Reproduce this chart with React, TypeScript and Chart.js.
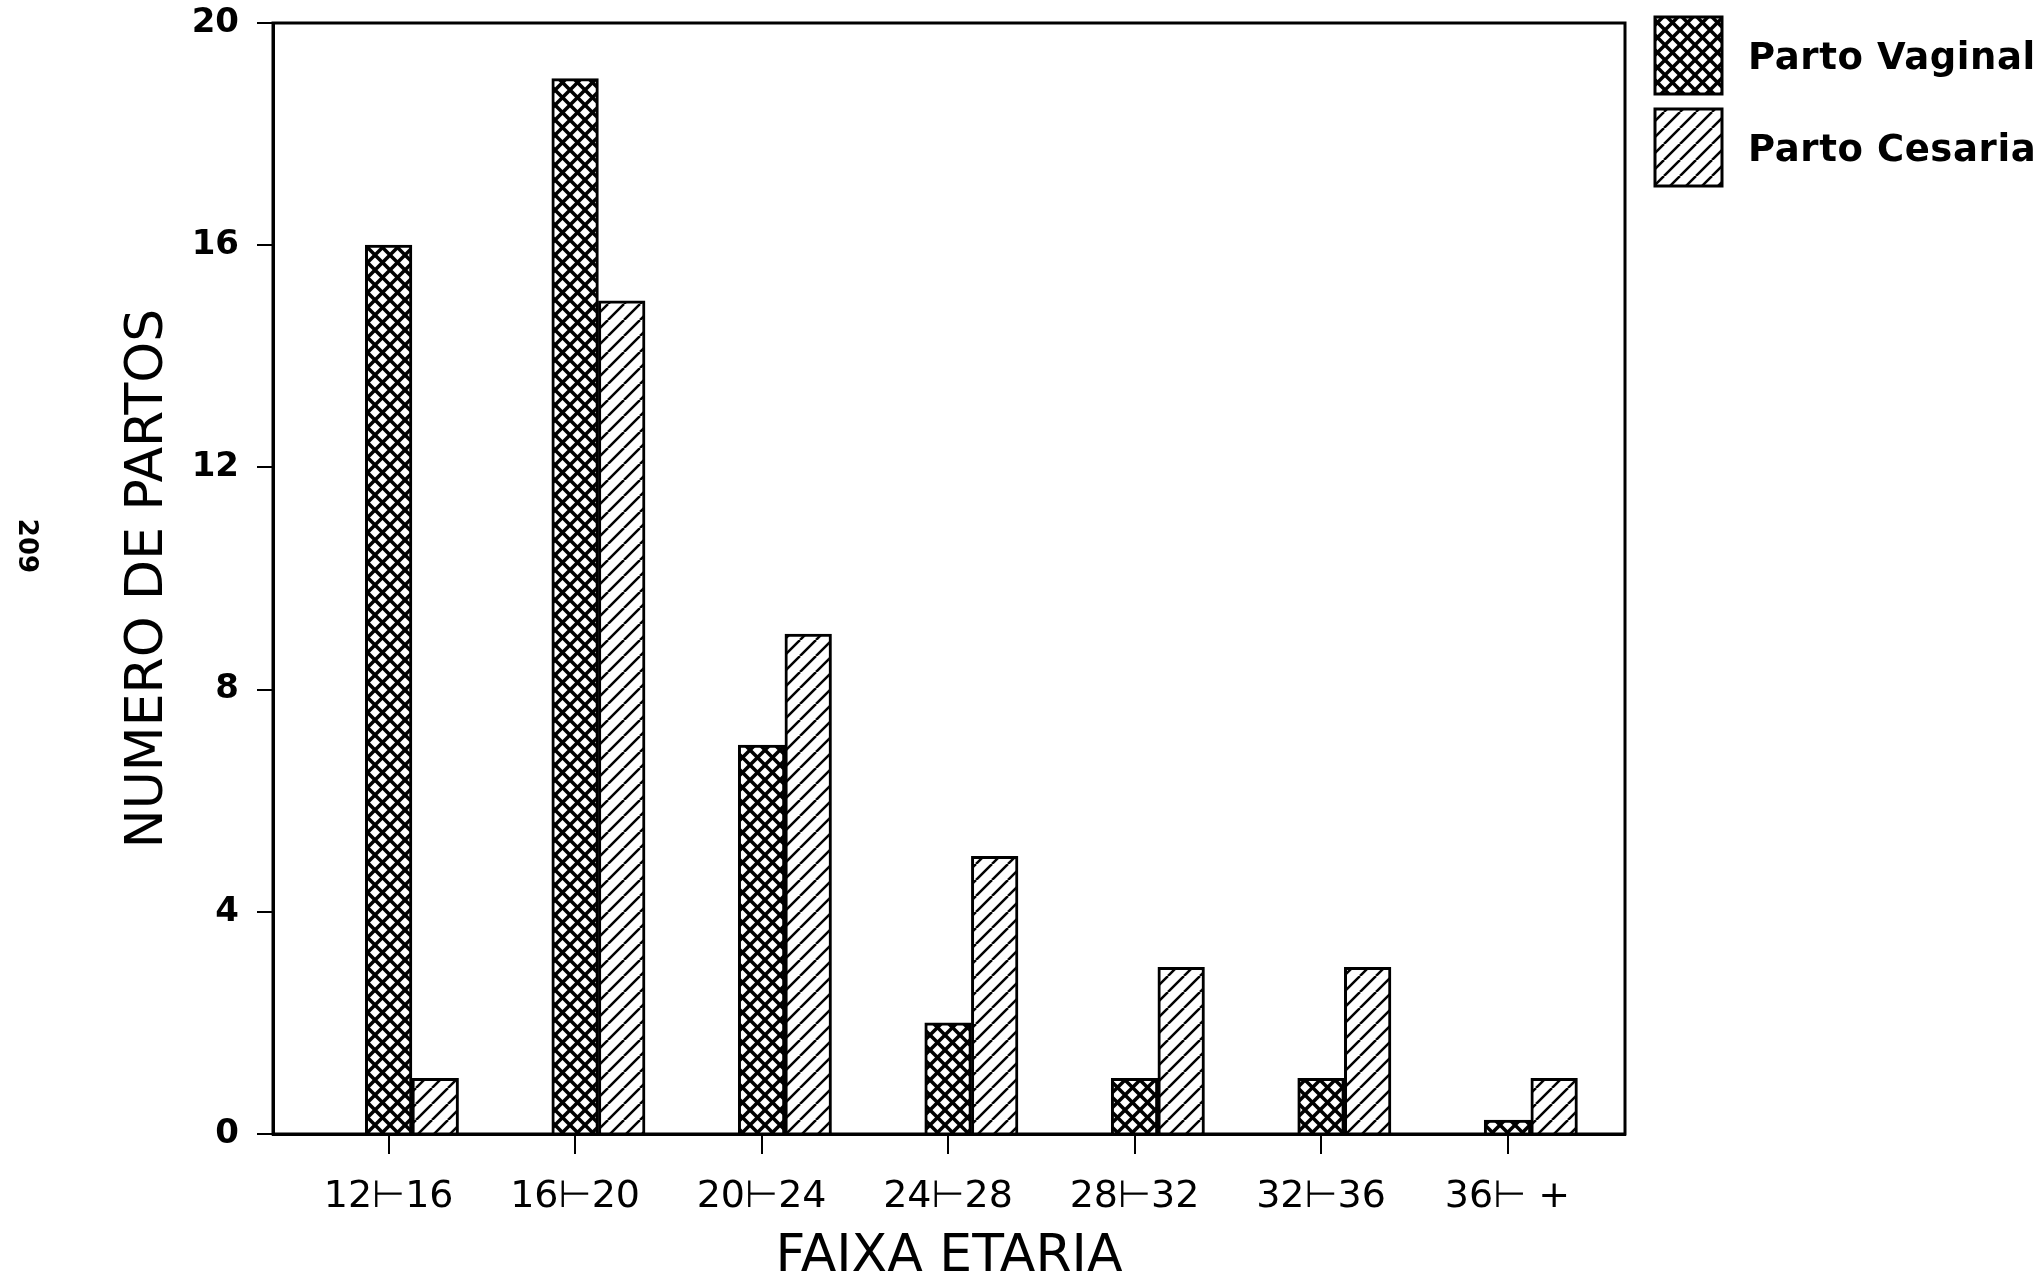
import { useEffect, useRef } from "react";
import { Chart, registerables } from "chart.js";

Chart.register(...registerables);

// Age groups on the horizontal axis
const ageGroups = ["12⊢16", "16⊢20", "20⊢24", "24⊢28", "28⊢32", "32⊢36", "36⊢ +"];
// Number of deliveries per age group
const partoVaginal = [16, 19, 7, 2, 1, 1, 0.25];
const partoCesariana = [1, 15, 9, 5, 3, 3, 1];
const yTicks = [0, 4, 8, 12, 16, 20];
const seriesLabels = ["Parto Vaginal", "Parto Cesariana"];
const xTitle = "FAIXA ETARIA";
const yTitle = "NUMERO DE PARTOS";
const pageMark = "209";

// width of one bar, in category units
const BAR_UNIT = 0.25;

function makeHatch(cross: boolean, size: number, lineWidth: number): CanvasPattern {
  const c = document.createElement("canvas");
  c.width = size;
  c.height = size;
  const g = c.getContext("2d")!;
  g.fillStyle = "#fff";
  g.fillRect(0, 0, size, size);
  g.strokeStyle = "#000";
  g.lineWidth = lineWidth;
  for (const dx of [-size, 0, size]) {
    g.beginPath();
    g.moveTo(dx, size);
    g.lineTo(dx + size, 0);
    g.stroke();
    if (cross) {
      g.beginPath();
      g.moveTo(dx, 0);
      g.lineTo(dx + size, size);
      g.stroke();
    }
  }
  return g.createPattern(c, "repeat")!;
}

export default function App() {
  const ref = useRef<HTMLCanvasElement | null>(null);

  useEffect(() => {
    const canvas = ref.current;
    if (!canvas) return;
    const crossFill = makeHatch(true, 15, 3.5);
    const slashFill = makeHatch(false, 16, 2.5);
    const fills = [crossFill, slashFill];

    const framePlugin = {
      id: "frame",
      afterDraw(chart: any) {
        const { ctx, chartArea } = chart;
        ctx.save();
        ctx.strokeStyle = "#000";
        ctx.lineWidth = 3;
        ctx.strokeRect(chartArea.left, chartArea.top, chartArea.right - chartArea.left, chartArea.bottom - chartArea.top);
        ctx.restore();
      },
    };

    const legendPlugin = {
      id: "boxLegend",
      afterDraw(chart: any) {
        const { ctx, chartArea } = chart;
        const x = chartArea.right + 30;
        const boxW = 67;
        const boxH = 77;
        const tops = [17, 109];
        ctx.save();
        seriesLabels.forEach((label, i) => {
          const y = tops[i];
          ctx.fillStyle = fills[i];
          ctx.fillRect(x, y, boxW, boxH);
          ctx.strokeStyle = "#000";
          ctx.lineWidth = 3;
          ctx.strokeRect(x, y, boxW, boxH);
          ctx.fillStyle = "#000";
          ctx.font = "bold 37px 'DejaVu Sans'";
          (ctx as any).letterSpacing = "0.6px";
          ctx.textBaseline = "alphabetic";
          ctx.textAlign = "left";
          ctx.fillText(label, x + 93, y + boxH / 2 + 13);
        });
        ctx.restore();
      },
    };

    const markPlugin = {
      id: "pageMark",
      afterDraw(chart: any) {
        const { ctx } = chart;
        ctx.save();
        ctx.translate(26, 546);
        ctx.rotate(Math.PI / 2);
        ctx.font = "bold 26px 'DejaVu Sans'";
        ctx.fillStyle = "#000";
        ctx.textAlign = "center";
        ctx.textBaseline = "middle";
        ctx.fillText(pageMark, 0, 0);
        ctx.restore();
      },
    };

    const chart = new Chart(canvas, {
      type: "bar",
      data: {
        datasets: [
          {
            label: seriesLabels[0],
            data: partoVaginal.map((v, i) => ({ x: i, y: v })),
            backgroundColor: crossFill,
            borderColor: "#000",
            borderWidth: 3,
          },
          {
            label: seriesLabels[1],
            data: partoCesariana.map((v, i) => ({ x: i + BAR_UNIT, y: v })),
            backgroundColor: slashFill,
            borderColor: "#000",
            borderWidth: 3,
          },
        ],
      },
      options: {
        animation: false,
        responsive: true,
        maintainAspectRatio: false,
        grouped: false,
        categoryPercentage: 1,
        barPercentage: 1,
        layout: { padding: { left: 0, right: 414, top: 23, bottom: 0 } },
        plugins: { legend: { display: false }, tooltip: { enabled: false } },
        scales: {
          x: {
            type: "linear",
            offset: false,
            min: -0.62,
            max: 6.63,
            afterBuildTicks: (s: any) => {
              s.ticks = ageGroups.map((_, i) => ({ value: i }));
            },
            afterFit: (s: any) => {
              s.height = 139;
            },
            grid: { offset: false, drawOnChartArea: false, drawTicks: true, tickLength: 20, color: "#000", lineWidth: 2 },
            border: { display: true, color: "#000", width: 3 },
            ticks: {
              autoSkip: false,
              maxRotation: 0,
              padding: 20,
              color: "#000",
              font: { family: "'DejaVu Sans'", size: 38 },
              callback: (v: any) => ageGroups[v] ?? "",
            },
            title: {
              display: true,
              text: xTitle,
              color: "#000",
              font: { family: "'DejaVu Sans'", size: 52, lineHeight: 1 },
              padding: { top: 0, bottom: -10 },
            },
          },
          y: {
            min: 0,
            max: 20,
            afterBuildTicks: (s: any) => {
              s.ticks = yTicks.map((v) => ({ value: v }));
            },
            afterFit: (s: any) => {
              s.width = 273;
              s.paddingTop = 0;
              s.paddingBottom = 0;
            },
            grid: { drawOnChartArea: false, drawTicks: true, tickLength: 16, color: "#000", lineWidth: 2 },
            border: { display: true, color: "#000", width: 3 },
            ticks: {
              padding: 18,
              color: "#000",
              font: { family: "'DejaVu Sans'", size: 34, weight: "bold" },
            },
            title: {
              display: true,
              text: yTitle,
              color: "#000",
              font: { family: "'DejaVu Sans'", size: 52, lineHeight: 1 },
              padding: { top: 122, bottom: 0 },
            },
          },
        },
      } as any,
      plugins: [framePlugin, legendPlugin, markPlugin],
    });
    return () => chart.destroy();
  }, []);

  return (
    <div style={{ position: "fixed", left: 0, top: 0, width: 2039, height: 1273, background: "#fff" }}>
      <canvas ref={ref} />
    </div>
  );
}
